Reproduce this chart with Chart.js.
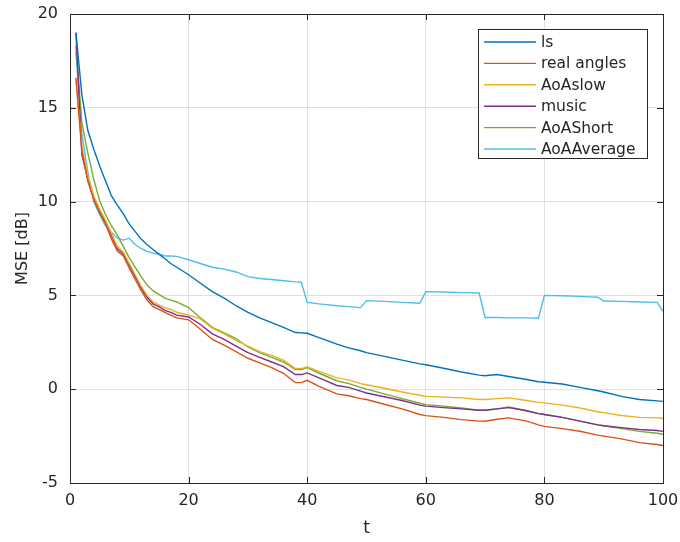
<!DOCTYPE html>
<html>
<head>
<meta charset="utf-8">
<script src="https://cdn.jsdelivr.net/npm/chart.js@4/dist/chart.umd.min.js"></script>
<style>
  html, body { margin: 0; padding: 0; background: #ffffff; }
  #wrap { width: 680px; height: 542px; position: relative; }
</style>
</head>
<body>
<div id="wrap"><canvas id="c" width="680" height="542"></canvas></div>
<script>
// ---- data ----
const t = [1,2,3,4,5,6,7,8,9,10,11,12,13,14,15,16,17,18,20,22,24,26,28,30,32,34,36,38,39,40,42,45,47,49,50,53,56,59,60,63,66,69,70,72,74,77,79,80,83,86,89,90,93,96,99,100];

const seriesNames = ["ls", "real angles", "AoAslow", "music", "AoAShort", "AoAAverage"];

const ls = [19.0,15.7,13.8,12.8,11.9,11.1,10.3,9.8,9.35,8.8,8.4,8.0,7.7,7.45,7.2,6.95,6.7,6.5,6.1,5.65,5.2,4.85,4.45,4.1,3.8,3.55,3.3,3.02,3.0,2.98,2.75,2.4,2.2,2.05,1.95,1.75,1.55,1.35,1.3,1.12,0.92,0.75,0.72,0.78,0.68,0.52,0.4,0.37,0.28,0.1,-0.08,-0.15,-0.38,-0.55,-0.62,-0.65];

const realAngles = [16.6,12.7,11.1,10.1,9.4,8.8,8.0,7.35,7.1,6.45,5.85,5.25,4.75,4.4,4.25,4.1,3.95,3.8,3.7,3.2,2.65,2.35,2.0,1.65,1.4,1.15,0.85,0.35,0.35,0.47,0.15,-0.25,-0.35,-0.5,-0.55,-0.8,-1.05,-1.35,-1.41,-1.5,-1.62,-1.7,-1.71,-1.6,-1.53,-1.7,-1.9,-1.98,-2.1,-2.24,-2.45,-2.5,-2.65,-2.85,-2.95,-3.0];

const aoaSlow = [16.5,12.9,11.4,10.3,9.6,9.0,8.3,7.6,7.3,6.7,6.1,5.5,5.0,4.65,4.5,4.35,4.25,4.1,3.95,3.75,3.25,2.95,2.6,2.3,2.0,1.8,1.55,1.1,1.1,1.2,0.95,0.6,0.5,0.3,0.24,0.05,-0.15,-0.32,-0.38,-0.42,-0.46,-0.55,-0.55,-0.5,-0.46,-0.6,-0.7,-0.73,-0.85,-1.0,-1.2,-1.25,-1.4,-1.5,-1.53,-1.55];

const music = [19.0,12.5,11.2,10.2,9.5,8.9,8.2,7.5,7.2,6.6,6.0,5.4,4.9,4.55,4.4,4.2,4.1,3.95,3.85,3.45,2.95,2.65,2.3,1.95,1.7,1.45,1.2,0.78,0.78,0.87,0.6,0.2,0.1,-0.1,-0.2,-0.4,-0.6,-0.85,-0.9,-0.98,-1.05,-1.12,-1.12,-1.05,-0.98,-1.15,-1.3,-1.35,-1.5,-1.7,-1.9,-1.95,-2.05,-2.15,-2.2,-2.25];

const aoaShort = [18.3,14.2,12.6,11.2,10.05,9.3,8.7,8.2,7.6,7.0,6.5,6.0,5.55,5.25,5.05,4.85,4.75,4.65,4.35,3.8,3.3,3.0,2.7,2.25,1.95,1.7,1.45,1.05,1.05,1.15,0.85,0.45,0.3,0.1,0.0,-0.25,-0.5,-0.75,-0.82,-0.9,-1.0,-1.12,-1.12,-1.05,-0.95,-1.15,-1.3,-1.35,-1.5,-1.7,-1.9,-1.95,-2.1,-2.25,-2.35,-2.4];

const aoaAverage = [18.0,13.6,11.6,10.0,9.3,8.7,8.35,8.05,7.95,8.05,7.7,7.5,7.35,7.25,7.2,7.1,7.1,7.08,6.9,6.7,6.5,6.4,6.25,6.0,5.9,5.85,5.78,5.72,5.7,4.63,4.55,4.45,4.4,4.35,4.72,4.68,4.63,4.58,5.2,5.18,5.15,5.13,3.82,3.82,3.8,3.8,3.78,5.0,4.98,4.95,4.9,4.7,4.68,4.65,4.63,4.15];

const xTicks = [0, 20, 40, 60, 80, 100];
const yTicks = [-5, 0, 5, 10, 15, 20];

// ---- styles ----
const colors = ["#0072BD", "#D95319", "#EDB120", "#7E2F8E", "#77AC30", "#4DBEEE"];
const allValues = [ls, realAngles, aoaSlow, music, aoaShort, aoaAverage];
const FONT = "'DejaVu Sans', sans-serif";
const AXIS = "#262626";

const datasets = seriesNames.map((name, i) => ({
  label: name,
  data: t.map((x, k) => ({ x: x, y: allValues[i][k] })),
  borderColor: colors[i],
  backgroundColor: colors[i],
  borderWidth: 1.4,
  pointRadius: 0,
  tension: 0,
  fill: false
}));

// inward ticks + box + legend, drawn with scale coordinates
const matlabDecor = {
  id: 'matlabDecor',
  afterDatasetsDraw(chart) {
    const ctx = chart.ctx;
    const a = chart.chartArea;
    const xs = chart.scales.x, ys = chart.scales.y;
    ctx.save();
    ctx.strokeStyle = AXIS;
    ctx.lineWidth = 1;
    ctx.strokeRect(Math.round(a.left) + 0.5, Math.round(a.top) + 0.5,
                   Math.round(a.right - a.left), Math.round(a.bottom - a.top));
    const L = 6;
    ctx.beginPath();
    xTicks.forEach(v => {
      const px = Math.round(xs.getPixelForValue(v)) + 0.5;
      ctx.moveTo(px, a.bottom); ctx.lineTo(px, a.bottom - L);
      ctx.moveTo(px, a.top); ctx.lineTo(px, a.top + L);
    });
    yTicks.forEach(v => {
      const py = Math.round(ys.getPixelForValue(v)) + 0.5;
      ctx.moveTo(a.left, py); ctx.lineTo(a.left + L, py);
      ctx.moveTo(a.right, py); ctx.lineTo(a.right - L, py);
    });
    ctx.stroke();

    // legend box (top-right inside axes)
    const bx = 478.5, by = 29.5, bw = 169, bh = 129;
    ctx.fillStyle = "#ffffff";
    ctx.fillRect(bx, by, bw, bh);
    ctx.strokeStyle = AXIS;
    ctx.strokeRect(bx, by, bw, bh);
    ctx.font = "15.5px " + FONT;
    ctx.textBaseline = "middle";
    ctx.textAlign = "left";
    chart.data.datasets.forEach((ds, i) => {
      const yy = 42 + i * 21.4;
      ctx.strokeStyle = ds.borderColor;
      ctx.lineWidth = 1.4;
      ctx.beginPath();
      ctx.moveTo(484, yy); ctx.lineTo(536, yy);
      ctx.stroke();
      ctx.fillStyle = AXIS;
      ctx.fillText(ds.label, 541, yy + 1);
    });
    ctx.restore();
  }
};

new Chart(document.getElementById('c'), {
  type: 'line',
  data: { datasets: datasets },
  options: {
    responsive: false,
    animation: false,
    devicePixelRatio: 1,
    layout: { padding: { left: 0, top: 14, right: 17, bottom: 0 } },
    plugins: { legend: { display: false }, tooltip: { enabled: false } },
    scales: {
      x: {
        type: 'linear',
        min: 0, max: 100,
        afterBuildTicks: s => { s.ticks = xTicks.map(v => ({ value: v })); },
        afterFit: s => { s.height = 59; s.paddingLeft = 0; s.paddingRight = 0; },
        grid: { color: '#e0e0e0', lineWidth: 1, drawTicks: false, drawOnChartArea: true },
        border: { display: false },
        ticks: { color: AXIS, font: { family: FONT, size: 16 }, padding: 8, maxRotation: 0 },
        title: { display: true, text: 't', color: AXIS, font: { family: FONT, size: 17 }, padding: { top: 0, bottom: 3 } }
      },
      y: {
        type: 'linear',
        min: -5, max: 20,
        afterBuildTicks: s => { s.ticks = yTicks.map(v => ({ value: v })); },
        afterFit: s => { s.width = 70; s.paddingTop = 0; s.paddingBottom = 0; },
        grid: { color: '#e0e0e0', lineWidth: 1, drawTicks: false },
        border: { display: false },
        ticks: { color: AXIS, font: { family: FONT, size: 16 }, padding: 12 },
        title: { display: true, text: 'MSE [dB]', color: AXIS, font: { family: FONT, size: 16 }, padding: { top: 13, bottom: 0 } }
      }
    }
  },
  plugins: [matlabDecor]
});
</script>
</body>
</html>
